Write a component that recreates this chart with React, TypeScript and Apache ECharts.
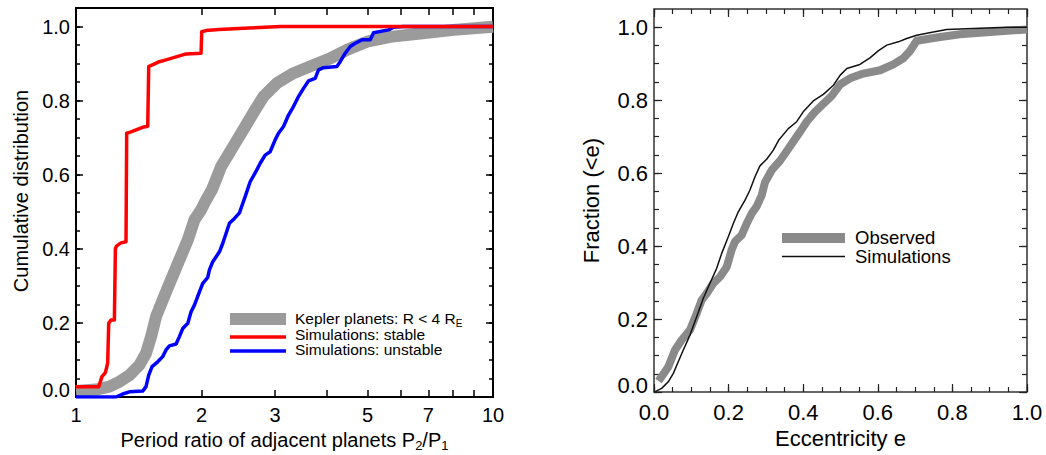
import React, { useEffect, useRef } from "react";
import * as echarts from "echarts";

// ---------- data ----------
const periodTickValues = [1, 2, 3, 4, 5, 6, 7, 8, 9, 10];
const periodLabelValues = [1, 2, 3, 5, 7, 10];
const fractionLabelValues = [0, 0.2, 0.4, 0.6, 0.8, 1.0];
const fractionMinorValues = [0, 0.05, 0.1, 0.15, 0.2, 0.25, 0.3, 0.35, 0.4, 0.45, 0.5, 0.55, 0.6, 0.65, 0.7, 0.75, 0.8, 0.85, 0.9, 0.95, 1.0];
const eccLabelValues = [0, 0.2, 0.4, 0.6, 0.8, 1.0];
const eccMinorValues = [0, 0.05, 0.1, 0.15, 0.2, 0.25, 0.3, 0.35, 0.4, 0.45, 0.5, 0.55, 0.6, 0.65, 0.7, 0.75, 0.8, 0.85, 0.9, 0.95, 1.0];

// Left panel: period ratio P2/P1 vs cumulative distribution
const keplerPlanets: [number, number][] = [
  [1.0, 0.016], [1.117, 0.02], [1.202, 0.028], [1.27, 0.041], [1.343, 0.059], [1.419, 0.086],
  [1.472, 0.118], [1.514, 0.163], [1.556, 0.217], [1.614, 0.262], [1.69, 0.316], [1.77, 0.37],
  [1.854, 0.424], [1.923, 0.478], [1.995, 0.505], [2.051, 0.532], [2.12, 0.56], [2.228, 0.622],
  [2.408, 0.685], [2.545, 0.73], [2.689, 0.775], [2.815, 0.811], [3.031, 0.847], [3.323, 0.874],
  [3.712, 0.896], [4.07, 0.914], [4.463, 0.937], [4.985, 0.959], [5.67, 0.972], [6.69, 0.981],
  [8.05, 0.991], [10, 0.9995],
];
const simStable: [number, number][] = [
  [1.0, 0.028], [1.134, 0.028], [1.137, 0.032], [1.154, 0.055], [1.176, 0.066], [1.191, 0.091],
  [1.198, 0.199], [1.213, 0.208], [1.236, 0.208], [1.243, 0.401], [1.252, 0.408], [1.282, 0.416],
  [1.318, 0.419], [1.323, 0.712], [1.35, 0.715], [1.393, 0.721], [1.445, 0.728], [1.486, 0.731],
  [1.494, 0.892], [1.52, 0.896], [1.584, 0.905], [1.644, 0.91], [1.738, 0.918], [1.836, 0.926],
  [1.995, 0.928], [2.002, 0.986], [2.05, 0.989], [2.2, 0.992], [2.6, 0.996], [3.1, 1.0], [10, 1.0],
];
const simUnstable: [number, number][] = [
  [1.0, 0.0], [1.247, 0.0], [1.294, 0.008], [1.343, 0.014], [1.445, 0.016], [1.472, 0.028],
  [1.494, 0.059], [1.522, 0.082], [1.57, 0.095], [1.614, 0.109], [1.644, 0.127], [1.675, 0.138],
  [1.738, 0.143], [1.77, 0.163], [1.803, 0.185], [1.854, 0.199], [1.888, 0.23], [1.923, 0.248],
  [1.977, 0.284], [2.014, 0.307], [2.07, 0.323], [2.089, 0.343], [2.128, 0.365], [2.208, 0.392],
  [2.249, 0.415], [2.291, 0.442], [2.333, 0.469], [2.399, 0.482], [2.466, 0.497], [2.512, 0.523],
  [2.545, 0.541], [2.616, 0.581], [2.714, 0.613], [2.765, 0.631], [2.842, 0.653], [2.921, 0.662],
  [3.003, 0.694], [3.059, 0.712], [3.145, 0.73], [3.233, 0.761], [3.323, 0.784], [3.416, 0.811],
  [3.512, 0.833], [3.61, 0.853], [3.746, 0.86], [3.816, 0.883], [3.923, 0.889], [4.223, 0.892],
  [4.301, 0.905], [4.422, 0.928], [4.546, 0.946], [4.673, 0.955], [4.849, 0.964], [5.077, 0.964],
  [5.171, 0.983], [5.617, 0.991], [5.774, 0.998], [6.103, 1.0], [10, 1.0],
];

// Right panel: eccentricity vs fraction (<e)
const eccObserved: [number, number][] = [
  [0.012, 0.03], [0.0295, 0.0557], [0.0384, 0.0694], [0.0563, 0.115], [0.0742, 0.1425], [0.0965, 0.17],
  [0.1144, 0.2155], [0.1278, 0.252], [0.1412, 0.27], [0.159, 0.298], [0.177, 0.316], [0.195, 0.343],
  [0.208, 0.389], [0.217, 0.412], [0.235, 0.43], [0.2485, 0.462], [0.262, 0.4895], [0.275, 0.508],
  [0.289, 0.54], [0.2976, 0.575], [0.3155, 0.608], [0.3378, 0.634], [0.3557, 0.66], [0.3735, 0.687],
  [0.3914, 0.713], [0.4093, 0.741], [0.4316, 0.768], [0.4539, 0.79], [0.4764, 0.812], [0.4987, 0.843],
  [0.5255, 0.86], [0.561, 0.873], [0.606, 0.882], [0.6416, 0.898], [0.6684, 0.915], [0.6863, 0.935],
  [0.7043, 0.963], [0.758, 0.972], [0.82, 0.981], [0.91, 0.9875], [1.0, 0.994],
];
const eccSimulated: [number, number][] = [
  [0.003, 0.001], [0.0206, 0.01], [0.0383, 0.028], [0.0518, 0.051], [0.065, 0.083], [0.0786, 0.115],
  [0.0965, 0.156], [0.1144, 0.206], [0.1322, 0.257], [0.15, 0.298], [0.168, 0.339], [0.1815, 0.38],
  [0.1992, 0.4255], [0.2126, 0.462], [0.226, 0.494], [0.244, 0.526], [0.257, 0.553], [0.2708, 0.59],
  [0.284, 0.62], [0.302, 0.638], [0.32, 0.663], [0.334, 0.69], [0.36, 0.722], [0.3826, 0.741],
  [0.4, 0.768], [0.427, 0.798], [0.454, 0.816], [0.481, 0.841], [0.4987, 0.868], [0.517, 0.887],
  [0.552, 0.898], [0.579, 0.916], [0.601, 0.935], [0.624, 0.951], [0.655, 0.96], [0.6775, 0.969],
  [0.7043, 0.978], [0.749, 0.987], [0.7847, 0.994], [0.838, 0.996], [0.9456, 1.0], [1.0, 1.0],
];

const FONT = "'Liberation Sans', Arial, Helvetica, sans-serif";

type AxisOpts = {
  grid: number;
  pos: string;
  min: number;
  max: number;
  ticks: number[];
  len: number;
  width: number;
  color: string;
  labels?: number[];
  fmt?: (v: number) => string;
  fontSize?: number;
  margin?: number;
};

function makeAxis(o: AxisOpts) {
  return {
    type: "value",
    gridIndex: o.grid,
    position: o.pos,
    min: o.min,
    max: o.max,
    axisLine: { show: false, onZero: false },
    splitLine: { show: false },
    axisTick: {
      show: true,
      inside: true,
      length: o.len,
      customValues: o.ticks,
      lineStyle: { color: o.color, width: o.width },
    },
    axisLabel: o.labels
      ? {
          show: true,
          customValues: o.labels,
          formatter: o.fmt,
          margin: o.margin,
          fontSize: o.fontSize,
          fontFamily: FONT,
          color: "#000",
          hideOverlap: false,
          rich: {
            z: {
              fontSize: o.fontSize,
              fontFamily: FONT,
              color: "#000",
              padding: [0, 0, 14, 0],
            },
          },
        }
      : { show: false },
  };
}

const fracFmt = (v: number) => (Math.abs(v) < 1e-9 ? "{z|0.0}" : v.toFixed(1));
const eccFmt = (v: number) => v.toFixed(1);
const periodFmt = (v: number) => String(Math.round(Math.pow(10, v)));

export default function App() {
  const ref = useRef<HTMLDivElement>(null);

  useEffect(() => {
    if (!ref.current) return;
    const chart = echarts.init(ref.current, null, { renderer: "svg" });

    const log = (a: [number, number][]) => a.map(([x, y]) => [Math.log10(x), y]);
    const pTicks = periodTickValues.map((v) => Math.log10(v));
    const pLabels = periodLabelValues.map((v) => Math.log10(v));

    const L = { color: "#000", width: 1.5 };
    const R = { color: "#222", width: 1.2 };

    const xAxes = [
      // left panel
      makeAxis({ grid: 0, pos: "bottom", min: 0, max: 1, ticks: pTicks, len: 7, ...L, labels: pLabels, fmt: periodFmt, fontSize: 20, margin: 8 }),
      makeAxis({ grid: 0, pos: "top", min: 0, max: 1, ticks: pTicks, len: 7, ...L }),
      // right panel
      makeAxis({ grid: 1, pos: "bottom", min: 0, max: 1, ticks: eccLabelValues, len: 8, ...R, labels: eccLabelValues, fmt: eccFmt, fontSize: 22, margin: 9 }),
      makeAxis({ grid: 1, pos: "bottom", min: 0, max: 1, ticks: eccMinorValues, len: 5, ...R }),
      makeAxis({ grid: 1, pos: "top", min: 0, max: 1, ticks: eccLabelValues, len: 8, ...R }),
      makeAxis({ grid: 1, pos: "top", min: 0, max: 1, ticks: eccMinorValues, len: 5, ...R }),
    ];
    const yAxes = [
      makeAxis({ grid: 0, pos: "left", min: 0, max: 1.05, ticks: fractionLabelValues, len: 7, ...L, labels: fractionLabelValues, fmt: fracFmt, fontSize: 20, margin: 6 }),
      makeAxis({ grid: 0, pos: "left", min: 0, max: 1.05, ticks: fractionMinorValues, len: 4, ...L }),
      makeAxis({ grid: 0, pos: "right", min: 0, max: 1.05, ticks: fractionLabelValues, len: 7, ...L }),
      makeAxis({ grid: 0, pos: "right", min: 0, max: 1.05, ticks: fractionMinorValues, len: 4, ...L }),
      makeAxis({ grid: 1, pos: "left", min: 0, max: 1.05, ticks: fractionLabelValues, len: 8, ...R, labels: fractionLabelValues, fmt: fracFmt, fontSize: 22, margin: 6 }),
      makeAxis({ grid: 1, pos: "left", min: 0, max: 1.05, ticks: fractionMinorValues, len: 5, ...R }),
      makeAxis({ grid: 1, pos: "right", min: 0, max: 1.05, ticks: fractionLabelValues, len: 8, ...R }),
      makeAxis({ grid: 1, pos: "right", min: 0, max: 1.05, ticks: fractionMinorValues, len: 5, ...R }),
    ];

    const line = (name: string, data: number[][], xi: number, yi: number, color: string, width: number, z: number) => ({
      type: "line",
      name,
      xAxisIndex: xi,
      yAxisIndex: yi,
      data,
      symbol: "none",
      showSymbol: false,
      silent: true,
      clip: true,
      z,
      lineStyle: { color, width, cap: "butt", join: "round" },
    });

    const text = (t: string, x: number, y: number, size: number, opts: any = {}) => ({
      type: "text",
      x,
      y,
      rotation: opts.rotation || 0,
      silent: true,
      z: 100,
      style: {
        text: t,
        fontSize: size,
        fontFamily: FONT,
        fill: "#000",
        align: opts.align || "left",
        verticalAlign: "middle",
        lineHeight: opts.lineHeight,
        rich: opts.rich,
      },
    });

    const option: any = {
      animation: false,
      backgroundColor: "#fff",
      grid: [
        { left: 76, top: 8, width: 417, height: 389, show: true, borderColor: "#000", borderWidth: 2, backgroundColor: "transparent", containLabel: false, outerBoundsMode: "none" },
        { left: 654, top: 9, width: 373, height: 383, show: true, borderColor: "#333", borderWidth: 1.5, backgroundColor: "transparent", containLabel: false, outerBoundsMode: "none" },
      ],
      xAxis: xAxes,
      yAxis: yAxes,
      series: [
        line("Kepler planets: R < 4 RE", log(keplerPlanets), 0, 0, "#9b9b9b", 12, 2),
        line("Simulations: unstable", log(simUnstable), 0, 0, "#0000ff", 3.5, 3),
        line("Simulations: stable", log(simStable), 0, 0, "#ff0000", 3.5, 4),
        line("Observed", eccObserved, 2, 4, "#8a8a8a", 8, 2),
        line("Simulations", eccSimulated, 2, 4, "#111111", 1.5, 3),
      ],
      graphic: [
        // axis titles - left panel
        text("Cumulative distribution", 21, 191, 20, { rotation: Math.PI / 2, align: "center" }),
        text("Period ratio of adjacent planets P{s|2}/P{s|1}", 284.5, 440, 20, {
          align: "center",
          lineHeight: 24,
          rich: { s: { fontSize: 13, fontFamily: FONT, fill: "#000", verticalAlign: "bottom", lineHeight: 14 } },
        }),
        // axis titles - right panel
        text("Fraction (<e)", 591, 200.5, 22, { rotation: Math.PI / 2, align: "center" }),
        text("Eccentricity e", 840.5, 438.5, 22, { align: "center" }),
        // legend - left panel
        { type: "rect", silent: true, z: 100, shape: { x: 230, y: 313, width: 56, height: 12 }, style: { fill: "#9b9b9b" } },
        { type: "line", silent: true, z: 100, shape: { x1: 230, y1: 337, x2: 286, y2: 337 }, style: { stroke: "#ff0000", lineWidth: 3.5 } },
        { type: "line", silent: true, z: 100, shape: { x1: 230, y1: 351, x2: 286, y2: 351 }, style: { stroke: "#0000ff", lineWidth: 3.5 } },
        text("{m|Kepler planets: R < 4 R}{e|E}{x| }", 295, 319.5, 15.5, {
          rich: {
            m: { fontSize: 15.5, fontFamily: FONT, fill: "#000", verticalAlign: "top", lineHeight: 15 },
            e: { fontSize: 10, fontFamily: FONT, fill: "#000", verticalAlign: "bottom", lineHeight: 10 },
            x: { fontSize: 4, lineHeight: 18 },
          },
        }),
        text("Simulations: stable", 295, 334, 15.5, { lineHeight: 15 }),
        text("Simulations: unstable", 295, 349.5, 15.5, { lineHeight: 15 }),
        // legend - right panel
        { type: "rect", silent: true, z: 100, shape: { x: 782, y: 233, width: 63, height: 10 }, style: { fill: "#8a8a8a" } },
        { type: "line", silent: true, z: 100, shape: { x1: 782, y1: 256.5, x2: 845, y2: 256.5 }, style: { stroke: "#111", lineWidth: 1.5 } },
        text("Observed", 855, 237, 18.5, { lineHeight: 16 }),
        text("Simulations", 855, 256.5, 18.5, { lineHeight: 16 }),
      ],
    };

    chart.setOption(option);
    return () => chart.dispose();
  }, []);

  return (
    <div
      ref={ref}
      style={{ position: "absolute", left: 0, top: 0, width: 1046, height: 455, background: "#fff" }}
    />
  );
}
